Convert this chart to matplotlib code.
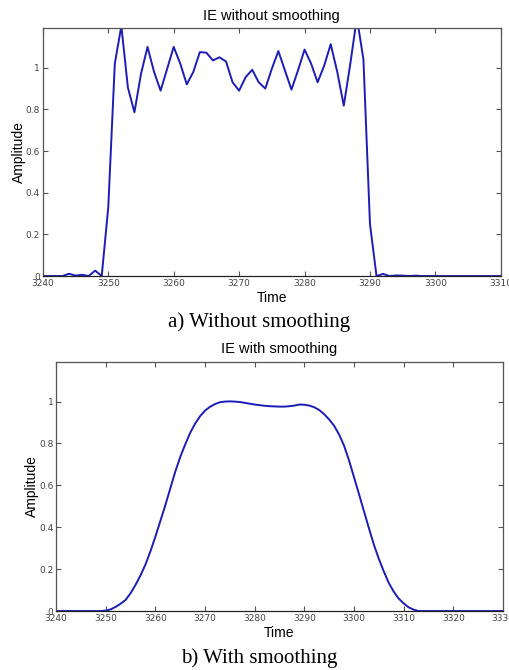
#!/usr/bin/env python3
import matplotlib
matplotlib.use("Agg")
import matplotlib.pyplot as plt

# raw IE (no smoothing), one sample per time unit
raw_time = list(range(3240, 3311))
raw_amp = [
	0.0, 0.0, 0.0, 0.0, 0.011, 0.002, 0.006, 0.0, 0.026, 0.0,        # 3240-3249
	0.33, 1.02, 1.20, 0.905, 0.786, 0.97, 1.10, 0.98, 0.89, 0.995,    # 3250-3259
	1.10, 1.02, 0.92, 0.98, 1.075, 1.072, 1.035, 1.05, 1.03, 0.93,    # 3260-3269
	0.89, 0.955, 0.99, 0.93, 0.90, 0.995, 1.08, 0.987, 0.895, 0.987,  # 3270-3279
	1.087, 1.02, 0.93, 1.01, 1.113, 0.98, 0.818, 1.02, 1.24, 1.04,    # 3280-3289
	0.25, 0.0, 0.01, 0.0, 0.003, 0.002, 0.0, 0.002, 0.0, 0.0,         # 3290-3299
	0.0, 0.0, 0.0, 0.0, 0.0, 0.0, 0.0, 0.0, 0.0, 0.0,                 # 3300-3309
	0.0,                                                              # 3310
]

smooth_time = [3240, 3248, 3249] + list(range(3250, 3314)) + [3330]
smooth_amp = [
	0.0, 0.0, 0.0,
	0.002, 0.008, 0.02, 0.035, 0.053, 0.085, 0.125, 0.17, 0.222, 0.285,   # 3250-3259
	0.355, 0.43, 0.505, 0.585, 0.665, 0.735, 0.795, 0.85, 0.895, 0.93,    # 3260-3269
	0.957, 0.975, 0.988, 0.997, 1.0, 1.001, 1.0, 0.998, 0.994, 0.99,      # 3270-3279
	0.986, 0.983, 0.98, 0.978, 0.977, 0.976, 0.976, 0.978, 0.981, 0.986,  # 3280-3289
	0.985, 0.981, 0.973, 0.96, 0.94, 0.915, 0.885, 0.843, 0.79, 0.72,     # 3290-3299
	0.64, 0.56, 0.478, 0.397, 0.318, 0.25, 0.19, 0.135, 0.093, 0.06,      # 3300-3309
	0.037, 0.018, 0.007, 0.0,                                             # 3310-3313
	0.0,
]

y_ticks = [0, 0.2, 0.4, 0.6, 0.8, 1]
y_tick_labels = ["0", "0.2", "0.4", "0.6", "0.8", "1"]

LINE_COLOR = "#1c1cb8"
FRAME_COLOR = "#555555"

def style_axes(axis, x_ticks):
	axis.set_ylim(0, 1.19)
	axis.set_xticks(x_ticks)
	axis.set_xticklabels([str(t) for t in x_ticks])
	axis.set_yticks(y_ticks)
	axis.set_yticklabels(y_tick_labels)
	axis.tick_params(direction="in", length=3.5, width=0.8, top=True, right=True,
	                 labelsize=6.5, labelcolor="#444444", color=FRAME_COLOR, pad=2)
	for spine in axis.spines.values():
		spine.set_color(FRAME_COLOR)
		spine.set_linewidth(0.9)
	axis.spines["bottom"].set_color("#222222")
	axis.set_xlabel("Time", fontsize=10, family="Liberation Sans", labelpad=2)
	axis.set_ylabel("Amplitude", fontsize=10, family="Liberation Sans", labelpad=0)

def main() -> None:
	figure = plt.figure(figsize=(5.1, 6.7), dpi=100)

	top = figure.add_axes([0.084, 0.588, 0.898, 0.370])
	top.plot(raw_time, raw_amp, color=LINE_COLOR, linewidth=1.4)
	top.set_xlim(3240, 3310)
	style_axes(top, list(range(3240, 3311, 10)))
	top.set_title("IE without smoothing", fontsize=10.5, family="Liberation Sans", pad=6)

	bottom = figure.add_axes([0.110, 0.088, 0.876, 0.372])
	bottom.plot(smooth_time, smooth_amp, color=LINE_COLOR, linewidth=1.4)
	bottom.set_xlim(3240, 3330)
	style_axes(bottom, list(range(3240, 3331, 10)))
	bottom.set_title("IE with smoothing", fontsize=10.5, family="Liberation Sans", pad=6)

	figure.text(0.508, 0.519, "a) Without smoothing", ha="center", va="center",
	            fontsize=15, family="Liberation Serif")
	figure.text(0.508, 0.017, "b) With smoothing", ha="center", va="center",
	            fontsize=15, family="Liberation Serif")

	figure.savefig("out.png", dpi=100)

if __name__ == '__main__':
	main()
